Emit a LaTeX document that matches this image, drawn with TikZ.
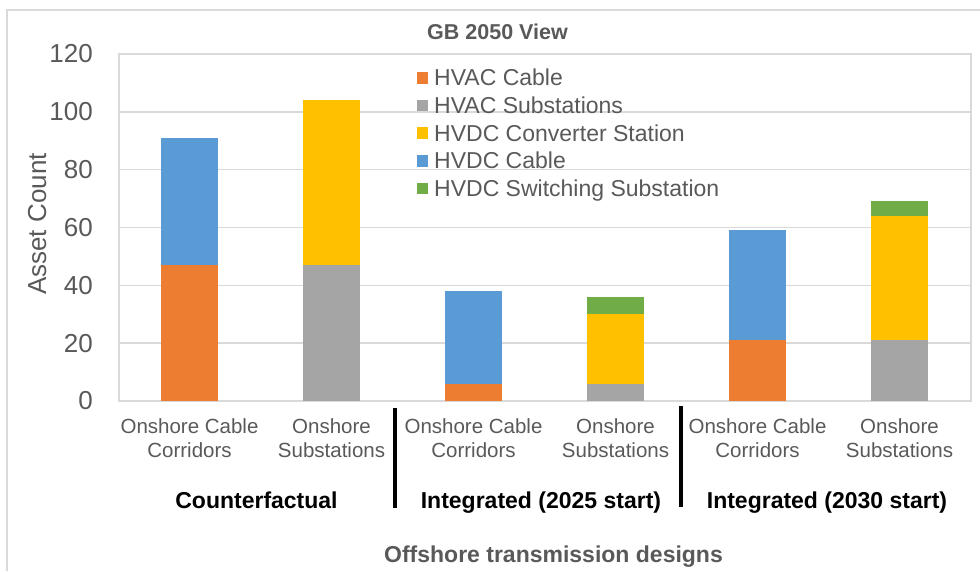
\documentclass[tikz,border=0pt]{standalone}
\usepackage{fontspec}
\setmainfont{Liberation Sans}
\usepackage{tikz}
\definecolor{acCable}{HTML}{ED7D31}
\definecolor{acSub}{HTML}{A5A5A5}
\definecolor{dcConv}{HTML}{FFC000}
\definecolor{dcCable}{HTML}{5B9BD5}
\definecolor{dcSwitch}{HTML}{70AD47}
\definecolor{labelgray}{HTML}{595959}
\definecolor{gridgray}{HTML}{D9D9D9}
\tikzset{
  ticklabel/.style={anchor=east, inner sep=0pt, text=labelgray, font=\fontsize{26}{30}\selectfont},
  catlabel/.style={anchor=base, align=center, inner sep=0pt, text=labelgray, font=\fontsize{20.5}{24}\selectfont},
  grouplabel/.style={anchor=base, inner sep=0pt, font=\fontsize{23}{28}\selectfont\bfseries},
  axistitle/.style={anchor=base, inner sep=0pt, text=labelgray, font=\fontsize{23}{28}\selectfont\bfseries},
  legendtext/.style={anchor=base west, inner sep=0pt, text=labelgray, font=\fontsize{23}{28}\selectfont},
  legendkey/.style={minimum size=11.5pt, inner sep=0pt},
  gridline/.style={draw=gridgray, line width=1.4pt},
  divider/.style={line width=4pt},
}

\begin{document}
\begin{tikzpicture}[x=1pt, y=1pt]
\useasboundingbox (0,0) rectangle (980,571);
% chart frame
\draw[gridline] (7,0) -- (7,561) -- (980,561);
\node[font=\fontsize{21.5}{26}\selectfont\bfseries, text=labelgray, anchor=base, inner sep=0pt] (title) at (497.5,531) {GB 2050 View};

% plot area
\begin{scope}[shift={(119,170)}, yscale=2.8917]
  \foreach \v in {20,40,...,100}
    \draw[gridline] (0,\v) -- (852,\v);
  \draw[gridline] (0,0) rectangle (852,120);
  \foreach \v in {0,20,...,120}
    \node[ticklabel] (tick\v) at (-26,\v) {\v};
  % stacked bars
  \foreach \i/\lo/\hi/\col in {1/0/47/acCable, 1/47/91/dcCable,
      2/0/47/acSub, 2/47/104/dcConv,
      3/0/6/acCable, 3/6/38/dcCable,
      4/0/6/acSub, 4/6/30/dcConv, 4/30/36/dcSwitch,
      5/0/21/acCable, 5/21/59/dcCable,
      6/0/21/acSub, 6/21/64/dcConv, 6/64/69/dcSwitch}
    \fill[\col] ({142*(\i-1)+42},\lo) rectangle ({142*(\i-1)+99},\hi);
\end{scope}

\node[ticklabel, anchor=base, rotate=90] (ytitle) at (46,347) {Asset Count};

% legend
\foreach \k/\col/\txt in {1/acCable/HVAC Cable, 2/acSub/HVAC Substations,
    3/dcConv/HVDC Converter Station, 4/dcCable/HVDC Cable,
    5/dcSwitch/HVDC Switching Substation} {
  \node[legendkey, fill=\col] (key\k) at (422.5,{493-27.6*(\k-1)}) {};
  \node[legendtext] (leg\k) at (434,{485-27.6*(\k-1)}) {\txt};
}

% category labels
\foreach \i/\txt in {1/{Onshore Cable\\Corridors}, 2/{Onshore\\Substations},
    3/{Onshore Cable\\Corridors}, 4/{Onshore\\Substations},
    5/{Onshore Cable\\Corridors}, 6/{Onshore\\Substations}}
  \node[catlabel] (cat\i) at ({189.5+142*(\i-1)},114) {\txt};

\node[grouplabel] (grpCF) at (256.5,63) {Counterfactual};
\node[grouplabel] (grp25) at (541,63) {Integrated (2025 start)};
\node[grouplabel] (grp30) at (827,63) {Integrated (2030 start)};

\coordinate (divAtop) at (395.3,163);
\coordinate (divAbot) at (395.3,63);
\coordinate (divBtop) at (680.7,165);
\coordinate (divBbot) at (680.7,64);
\draw[divider] (divAtop) -- (divAbot);
\draw[divider] (divBtop) -- (divBbot);

\node[axistitle] (xtitle) at (553.5,9) {Offshore transmission designs};
\end{tikzpicture}
\end{document}
